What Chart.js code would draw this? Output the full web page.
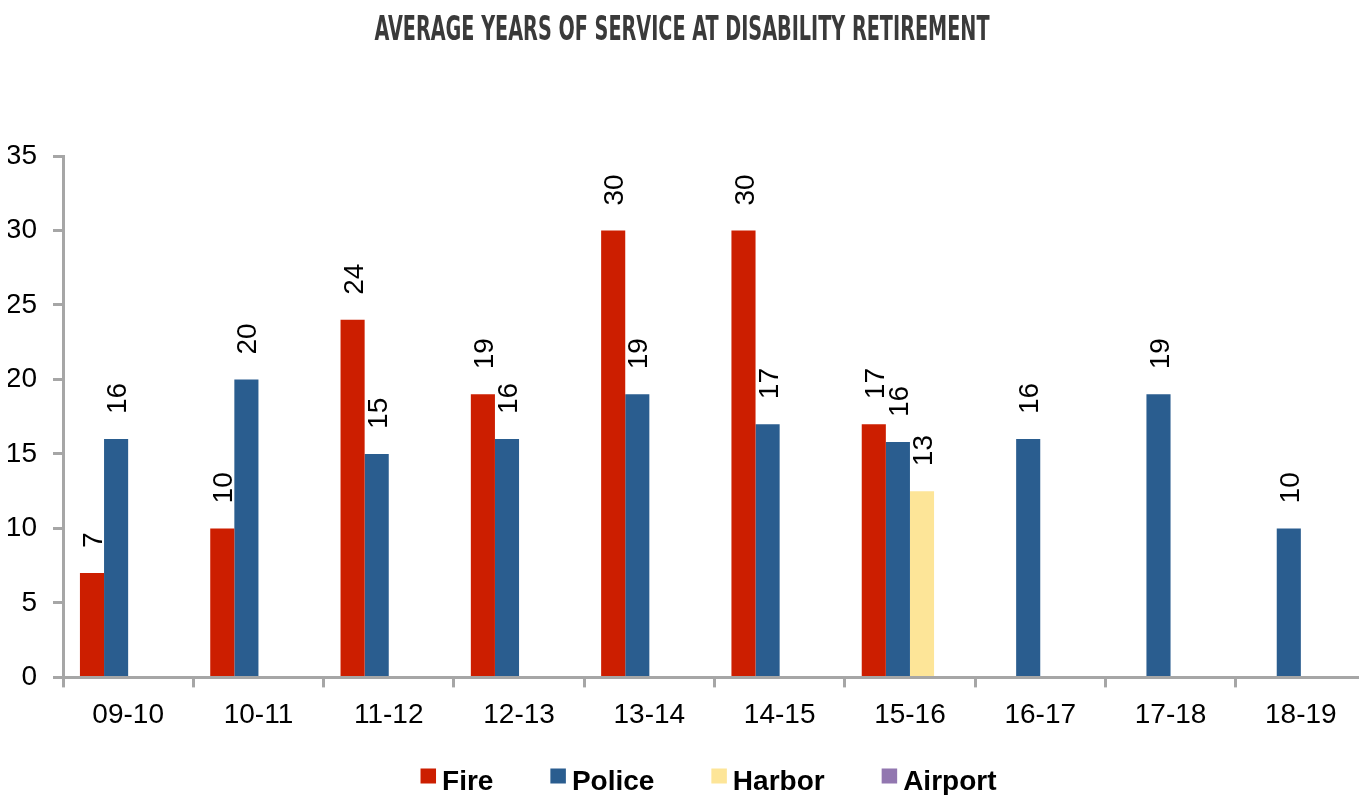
<!DOCTYPE html>
<html>
<head>
<meta charset="utf-8">
<title>Average Years of Service at Disability Retirement</title>
<script src="https://cdn.jsdelivr.net/npm/chart.js@4.4.1/dist/chart.umd.min.js"></script>
<style>
  html, body { margin: 0; padding: 0; background: #fff; overflow: hidden; }
  #wrap { position: relative; width: 1370px; height: 795px; }
</style>
</head>
<body>
<div id="wrap"><canvas id="chart"></canvas></div>
<script>
// Average years of service at disability retirement, by fiscal year and department
const chartTitle = 'AVERAGE YEARS OF SERVICE AT DISABILITY RETIREMENT';
const fiscalYears = ['09-10', '10-11', '11-12', '12-13', '13-14', '14-15', '15-16', '16-17', '17-18', '18-19'];
const fire    = [7, 10, 24, 19, 30, 30, 17, null, null, null];
const police  = [16, 20, 15, 16, 19, 17, 15.8, 16, 19, 10];
const harbor  = [null, null, null, null, null, null, 12.5, null, null, null];
const airport = [null, null, null, null, null, null, null, null, null, null];
const yTickValues = [0, 5, 10, 15, 20, 25, 30, 35];

const AXIS_GREY = '#A6A6A6';
const LABEL_FONT = '"Liberation Sans", Arial, Helvetica, sans-serif';

// Condensed headline across the top
const headline = {
  id: 'headline',
  afterDraw(chart) {
    const ctx = chart.ctx;
    ctx.save();
    ctx.font = 'bold 34px "Liberation Sans Narrow", "DejaVu Sans Condensed", Arial, sans-serif';
    ctx.fillStyle = '#3A3A3A';
    ctx.textAlign = 'center';
    ctx.textBaseline = 'alphabetic';
    const w = ctx.measureText(chartTitle).width;
    const sx = Math.min(1, 615 / w);
    ctx.translate(682, 40);
    ctx.scale(sx, 1);
    ctx.fillText(chartTitle, 0, 0);
    ctx.restore();
  }
};

// Rotated value labels above each bar
const valueLabels = {
  id: 'valueLabels',
  afterDatasetsDraw(chart) {
    const ctx = chart.ctx;
    const size = 28;
    ctx.save();
    ctx.font = size + 'px ' + LABEL_FONT;
    ctx.fillStyle = '#000';
    ctx.textAlign = 'left';
    ctx.textBaseline = 'alphabetic';
    const capHalf = size * 0.716 / 2;
    chart.data.datasets.forEach((ds, i) => {
      const meta = chart.getDatasetMeta(i);
      meta.data.forEach((bar, j) => {
        const v = ds.data[j];
        if (v == null) return;
        ctx.save();
        ctx.translate(bar.x, bar.y - 25);
        ctx.rotate(-Math.PI / 2);
        ctx.fillText(String(Math.round(v)), 0, capHalf);
        ctx.restore();
      });
    });
    ctx.restore();
  }
};

// Legend row under the plot area
const legendRow = {
  id: 'legendRow',
  afterDraw(chart) {
    const ctx = chart.ctx;
    const area = chart.chartArea;
    ctx.save();
    ctx.font = 'bold 28px ' + LABEL_FONT;
    const boxW = 15.5, boxH = 15, textGap = 6, itemGap = 57;
    const items = chart.data.datasets.map(ds => ({
      label: ds.label,
      color: ds.backgroundColor,
      w: ctx.measureText(ds.label).width
    }));
    const total = items.reduce((s, it) => s + boxW + textGap + it.w, 0) + itemGap * (items.length - 1);
    let x = (area.left + area.right) / 2 - 6 - total / 2;
    const baseline = 790;
    ctx.textBaseline = 'alphabetic';
    ctx.textAlign = 'left';
    items.forEach(it => {
      ctx.fillStyle = it.color;
      ctx.fillRect(x, 768.5, boxW, boxH);
      ctx.fillStyle = '#000';
      ctx.fillText(it.label, x + boxW + textGap, baseline);
      x += boxW + textGap + it.w + itemGap;
    });
    ctx.restore();
  }
};

new Chart(document.getElementById('chart'), {
  type: 'bar',
  data: {
    labels: fiscalYears,
    datasets: [
      { label: 'Fire',    data: fire,    backgroundColor: '#CC1E00' },
      { label: 'Police',  data: police,  backgroundColor: '#2A5D8F' },
      { label: 'Harbor',  data: harbor,  backgroundColor: '#FDE598' },
      { label: 'Airport', data: airport, backgroundColor: '#9277B0' }
    ]
  },
  options: {
    responsive: true,
    maintainAspectRatio: false,
    devicePixelRatio: 1,
    animation: false,
    layout: { padding: { top: 156, left: 8, right: 4, bottom: 52 } },
    datasets: {
      bar: { barPercentage: 1.0, categoryPercentage: 0.74, borderWidth: 0 }
    },
    plugins: {
      legend: { display: false },
      title: { display: false },
      tooltip: { enabled: false }
    },
    scales: {
      x: {
        offset: true,
        grid: {
          display: true,
          drawOnChartArea: false,
          offset: true,
          color: AXIS_GREY,
          lineWidth: 3,
          tickLength: 10
        },
        border: { display: true, color: AXIS_GREY, width: 3 },
        ticks: {
          color: '#000',
          font: { family: LABEL_FONT, size: 28 },
          padding: 11,
          maxRotation: 0,
          autoSkip: false
        }
      },
      y: {
        min: 0,
        max: 35,
        afterBuildTicks(scale) { scale.ticks = yTickValues.map(v => ({ value: v })); },
        afterFit(scale) { scale.width = 55; },
        grid: {
          display: true,
          drawOnChartArea: false,
          color: AXIS_GREY,
          lineWidth: 3,
          tickLength: 10
        },
        border: { display: true, color: AXIS_GREY, width: 3 },
        ticks: {
          color: '#000',
          font: { family: LABEL_FONT, size: 28 },
          padding: 16
        }
      }
    }
  },
  plugins: [headline, valueLabels, legendRow]
});
</script>
</body>
</html>
